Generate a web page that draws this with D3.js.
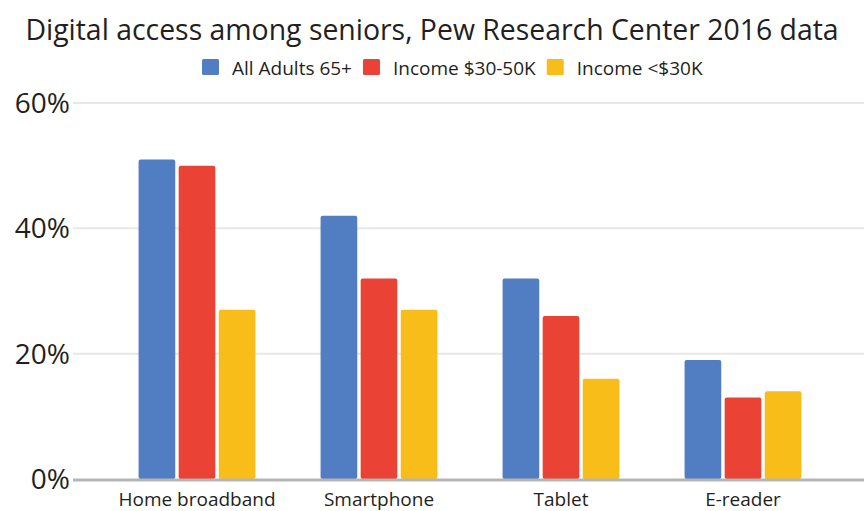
<!DOCTYPE html>
<html>
<head>
<meta charset="utf-8">
<script src="https://cdn.jsdelivr.net/npm/d3@7.9.0/dist/d3.min.js"></script>
<style>
  body { margin: 0; background: #fff; }
  svg { display: block; font-family: 'Open Sans', sans-serif; }
</style>
</head>
<body>
<svg id="chart" width="864" height="511"></svg>
<script>
const categories = ['Home broadband', 'Smartphone', 'Tablet', 'E-reader'];
const seriesNames = ['All Adults 65+', 'Income $30-50K', 'Income <$30K'];
const allAdults = [51, 42, 32, 19];
const income30to50 = [50, 32, 26, 13];
const incomeUnder30 = [27, 27, 16, 14];
const yTicks = [0, 20, 40, 60];

const seriesValues = [allAdults, income30to50, incomeUnder30];
const colors = d3.scaleOrdinal(seriesNames, ['#517dc2', '#ea4335', '#f8bd19']);

const width = 864, height = 511;
const svg = d3.select('#chart');

let y = d3.scaleLinear().domain([0, 60]).range([479, 103]);
let x0 = d3.scaleBand().domain(categories).range([106, 834]).paddingInner(0.358).paddingOuter(0.179);
let x1 = d3.scaleBand().domain(seriesNames).range([0, x0.bandwidth()]).paddingInner(0.085);

// gridlines
svg.append('g')
  .selectAll('line')
  .data(yTicks.filter((d) => d > 0))
  .join('line')
  .attr('x1', 73).attr('x2', width)
  .attr('y1', (d) => y(d)).attr('y2', (d) => y(d))
  .attr('stroke', '#e6e8e8')
  .attr('stroke-width', 2);

// y tick labels
svg.append('g')
  .selectAll('text')
  .data(yTicks)
  .join('text')
  .attr('x', 70)
  .attr('y', (d) => y(d))
  .attr('dy', '0.36em')
  .attr('text-anchor', 'end')
  .attr('font-size', 28)
  .attr('fill', '#231f20')
  .text((d) => d + '%');

// bars
let rows = categories.map((c, i) => ({
  category: c,
  values: seriesNames.map((s, j) => ({ series: s, value: seriesValues[j][i] })),
}));

svg.append('g')
  .selectAll('g')
  .data(rows)
  .join('g')
  .attr('transform', (d) => `translate(${x0(d.category)},0)`)
  .selectAll('rect')
  .data((d) => d.values)
  .join('rect')
  .attr('x', (d) => x1(d.series))
  .attr('y', (d) => y(d.value))
  .attr('width', x1.bandwidth())
  .attr('height', (d) => y(0) - y(d.value))
  .attr('rx', 2)
  .attr('fill', (d) => colors(d.series));

// baseline
svg.append('line')
  .attr('x1', 73).attr('x2', width)
  .attr('y1', y(0) + 1).attr('y2', y(0) + 1)
  .attr('stroke', '#b4b6b6')
  .attr('stroke-width', 3);

// x labels
svg.append('g')
  .selectAll('text')
  .data(categories)
  .join('text')
  .attr('x', (d) => x0(d) + x0.bandwidth() / 2)
  .attr('y', 506)
  .attr('text-anchor', 'middle')
  .attr('font-size', 19)
  .attr('fill', '#231f20')
  .text((d) => d);

// title
svg.append('text')
  .attr('x', width / 2)
  .attr('y', 40)
  .attr('text-anchor', 'middle')
  .attr('font-size', 28.4)
  .attr('fill', '#231f20')
  .text('Digital access among seniors, Pew Research Center 2016 data');

// legend
let legend = svg.append('g').attr('transform', 'translate(202,0)');
let lx = 0;
seriesNames.forEach((s) => {
  let g = legend.append('g').attr('transform', `translate(${lx},0)`);
  g.append('rect')
    .attr('x', 0).attr('y', 59)
    .attr('width', 17).attr('height', 16)
    .attr('rx', 1.5)
    .attr('fill', colors(s));
  let t = g.append('text')
    .attr('x', 30).attr('y', 75)
    .attr('font-size', 19)
    .attr('fill', '#231f20')
    .text(s);
  lx += 30 + t.node().getComputedTextLength() + 11;
});
</script>
</body>
</html>
